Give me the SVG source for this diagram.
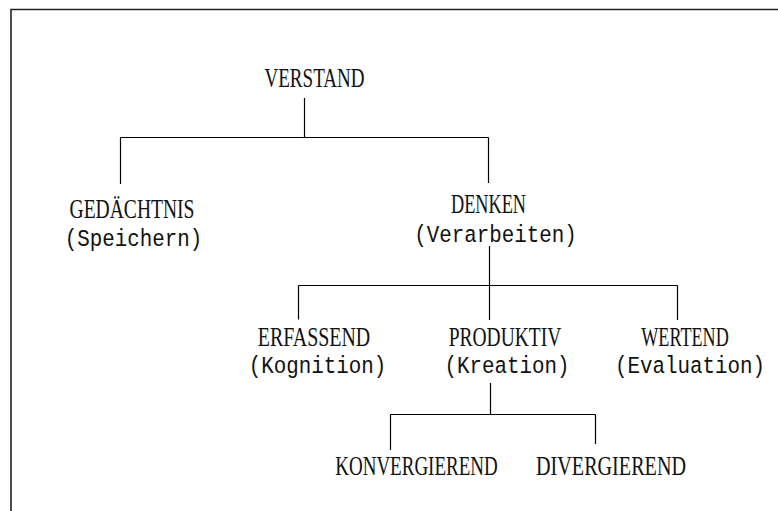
<svg xmlns="http://www.w3.org/2000/svg" width="778" height="511" viewBox="0 0 778 511">
<style>
text{font-family:"Liberation Serif","Times New Roman",serif;font-size:26.5px;fill:#111;}
text.sub{font-family:"Liberation Mono","Courier New",monospace;font-size:24.5px;}
.c line{stroke:#000;stroke-width:1.2;fill:none;}
.frame{stroke:#222;stroke-width:1.6;fill:none;}
</style>
<rect width="778" height="511" fill="#fff"/>
<path class="frame" d="M11,511 V9.5 H778"/>
<g class="c" id="connectors">
<line x1="304.5" y1="98" x2="304.5" y2="137.5"/>
<line x1="120.5" y1="137.5" x2="488.5" y2="137.5"/>
<line x1="120.5" y1="137.5" x2="120.5" y2="184"/>
<line x1="488.5" y1="137.5" x2="488.5" y2="183"/>
<line x1="489.5" y1="246" x2="489.5" y2="320"/>
<line x1="298.5" y1="285.5" x2="677.5" y2="285.5"/>
<line x1="298.5" y1="285.5" x2="298.5" y2="319.5"/>
<line x1="677.5" y1="285.5" x2="677.5" y2="320"/>
<line x1="490.5" y1="383" x2="490.5" y2="414.5"/>
<line x1="390.5" y1="414.5" x2="595.5" y2="414.5"/>
<line x1="390.5" y1="414.5" x2="390.5" y2="450"/>
<line x1="595.5" y1="414.5" x2="595.5" y2="444"/>
</g>
<g id="verstand"><text transform="translate(264.5,86.5) scale(0.71,1)" textLength="140.85" lengthAdjust="spacingAndGlyphs">VERSTAND</text></g>
<g id="gedaechtnis"><text transform="translate(69.5,218) scale(0.71,1)" textLength="176.06" lengthAdjust="spacingAndGlyphs">GEDÄCHTNIS</text>
<text class="sub" transform="translate(64.75,246) scale(0.85,1)" textLength="161.76" lengthAdjust="spacingAndGlyphs">(Speichern)</text></g>
<g id="denken"><text transform="translate(451,213) scale(0.71,1)" textLength="105.63" lengthAdjust="spacingAndGlyphs">DENKEN</text>
<text class="sub" transform="translate(414.25,242) scale(0.85,1)" textLength="191.18" lengthAdjust="spacingAndGlyphs">(Verarbeiten)</text></g>
<g id="erfassend"><text transform="translate(257.75,346) scale(0.71,1)" textLength="158.45" lengthAdjust="spacingAndGlyphs">ERFASSEND</text>
<text class="sub" transform="translate(248.75,373) scale(0.85,1)" textLength="161.76" lengthAdjust="spacingAndGlyphs">(Kognition)</text></g>
<g id="produktiv"><text transform="translate(448.75,346) scale(0.71,1)" textLength="158.45" lengthAdjust="spacingAndGlyphs">PRODUKTIV</text>
<text class="sub" transform="translate(444.5,373) scale(0.85,1)" textLength="147.06" lengthAdjust="spacingAndGlyphs">(Kreation)</text></g>
<g id="wertend"><text transform="translate(641.25,346) scale(0.71,1)" textLength="123.24" lengthAdjust="spacingAndGlyphs">WERTEND</text>
<text class="sub" transform="translate(615,373) scale(0.85,1)" textLength="176.47" lengthAdjust="spacingAndGlyphs">(Evaluation)</text></g>
<g id="konvergierend"><text transform="translate(335.25,475) scale(0.71,1)" textLength="228.87" lengthAdjust="spacingAndGlyphs">KONVERGIEREND</text></g>
<g id="divergierend"><text transform="translate(536,475) scale(0.71,1)" textLength="211.27" lengthAdjust="spacingAndGlyphs">DIVERGIEREND</text></g>
</svg>
